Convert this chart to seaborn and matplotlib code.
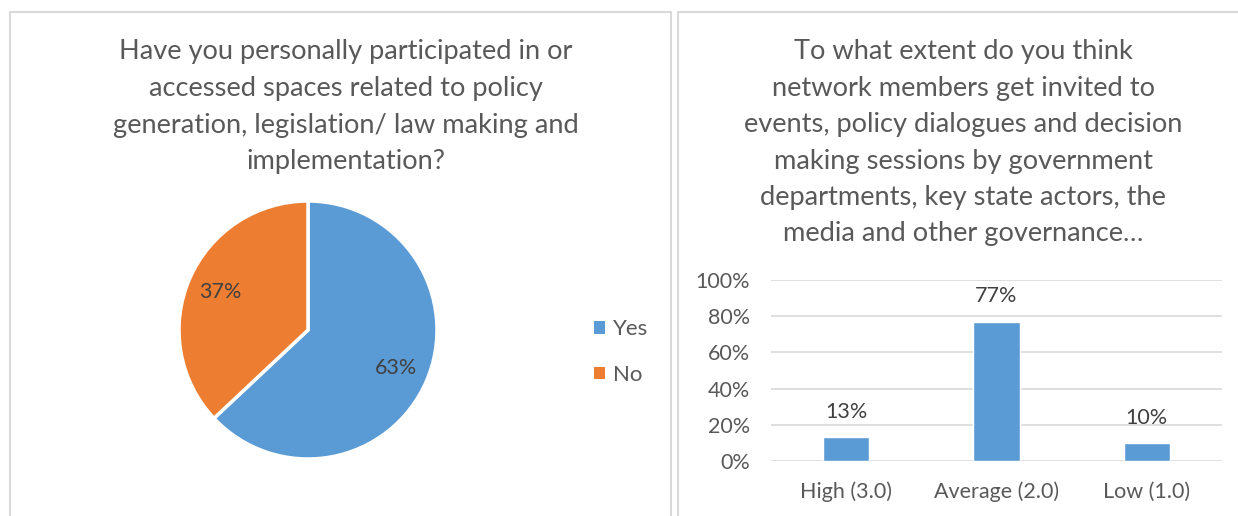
import matplotlib
matplotlib.use("Agg")
import matplotlib.pyplot as plt
from matplotlib.patches import Rectangle, Patch
from matplotlib.ticker import PercentFormatter
import seaborn as sns
import pandas as pd

# ---- data ----
pie_labels = ["Yes", "No"]
pie_values = [63, 37]
bar_categories = ["High (3.0)", "Average (2.0)", "Low (1.0)"]
bar_values = [0.13, 0.77, 0.10]
left_title = ["Have you personally participated in or",
              "accessed spaces related to policy",
              "generation, legislation/ law making and",
              "implementation?"]
right_title = ["To what extent do you think",
               "network members get invited to",
               "events, policy dialogues and decision",
               "making sessions by government",
               "departments, key state actors, the",
               "media and other governance\u2026"]

BLUE = "#5B9BD5"
ORANGE = "#ED7D31"
TXT = "#595959"
GRID = "#D9D9D9"

sns.set_theme(style="white")
plt.rcParams['font.family'] = ['Lato', 'DejaVu Sans']

W, H = 1238, 516
fig = plt.figure(figsize=(W / 100, H / 100), dpi=100)

def fx(px):
    return px / W

def fy(py):
    return 1 - py / H

# panel borders
for x0, x1 in [(10, 671), (678, 1260)]:
    fig.patches.append(Rectangle((fx(x0), fy(530)), fx(x1) - fx(x0), fy(12) - fy(530),
                                 transform=fig.transFigure, fill=False,
                                 edgecolor=GRID, linewidth=1.5))

# titles
for i, line in enumerate(left_title):
    fig.text(fx(346), fy(52 + i * 36.6), line, ha="center", va="center",
             fontsize=19.6, color=TXT)
for i, line in enumerate(right_title):
    fig.text(fx(963), fy(52 + i * 36.4), line, ha="center", va="center",
             fontsize=19.6, color=TXT)

# ---- pie ----
cx, cy, r = 308, 330, 129
ext = 1.1
ax1 = fig.add_axes([fx(cx - r * ext), fy(cy + r * ext), (2 * r * ext) / W, (2 * r * ext) / H])
wedges, texts, autotexts = ax1.pie(
    pie_values, colors=[BLUE, ORANGE], startangle=90, counterclock=False,
    wedgeprops=dict(edgecolor="white", linewidth=2.5),
    autopct=lambda p: f"{p:.0f}%", pctdistance=0.74,
    textprops=dict(color="#404040", fontsize=15.5))
ax1.set_xlim(-ext, ext)
ax1.set_ylim(-ext, ext)
ax1.set_aspect("equal")
ax1.axis("off")

handles = [Patch(facecolor=BLUE, edgecolor="none"), Patch(facecolor=ORANGE, edgecolor="none")]
fig.legend(handles, pie_labels, loc="center left",
           bbox_to_anchor=(fx(574), fy(352)), frameon=False, fontsize=16,
           labelcolor=TXT, handlelength=0.5, handleheight=0.5, handletextpad=0.35,
           labelspacing=1.15)

# ---- bar chart ----
ax2 = fig.add_axes([fx(771), fy(461), (1222 - 771) / W, (461 - 280) / H])
df = pd.DataFrame({"cat": bar_categories, "val": bar_values})
sns.barplot(data=df, x="cat", y="val", color=BLUE, saturation=1, width=0.31, ax=ax2, zorder=3)
ax2.set_ylim(0, 1)
ax2.set_yticks([0, 0.2, 0.4, 0.6, 0.8, 1.0])
ax2.yaxis.set_major_formatter(PercentFormatter(1.0, decimals=0))
ax2.grid(axis="y", color=GRID, linewidth=1.2, zorder=0)
ax2.set_axisbelow(True)
for s in ["top", "right", "left", "bottom"]:
    ax2.spines[s].set_visible(False)
ax2.set_xlabel("")
ax2.set_ylabel("")
ax2.tick_params(axis="both", length=0, labelsize=15.5, labelcolor=TXT)
ax2.tick_params(axis="x", pad=15)
ax2.tick_params(axis="y", pad=15)
for c in ax2.containers:
    ax2.bar_label(c, labels=[f"{v * 100:.0f}%" for v in c.datavalues],
                  padding=11, fontsize=15.5, color="#404040")

fig.savefig("out.png", dpi=100, facecolor="white")
